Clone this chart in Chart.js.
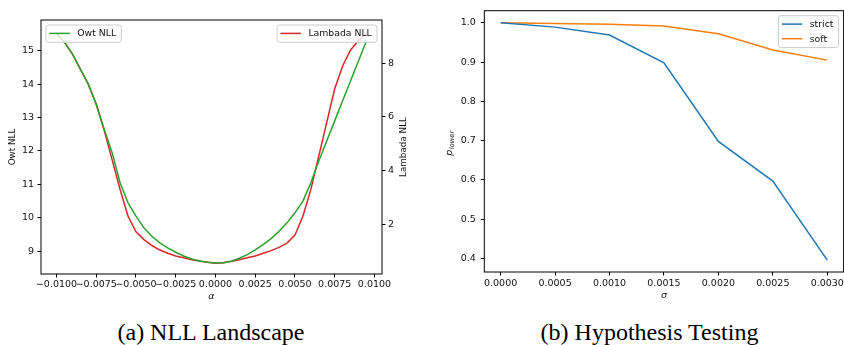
<!DOCTYPE html>
<html><head><meta charset="utf-8">
<script src="https://cdn.jsdelivr.net/npm/chart.js@4.4.0/dist/chart.umd.min.js"></script>
<style>
html,body{margin:0;padding:0;background:#fff;overflow:hidden;width:844px;height:345px;}
#wrap{position:relative;width:844px;height:345px;overflow:hidden;background:#fff}
#c1{position:absolute;left:0;top:0;width:420px;height:305px}
#c2{position:absolute;left:430px;top:0;width:470px;height:305px}
.cap{position:absolute;top:321px;font-family:'Liberation Serif','Times New Roman',serif;font-size:24px;line-height:23px;text-align:center;color:#000;white-space:nowrap;}
</style></head><body>
<div id="wrap">
<canvas id="c1" width="420" height="305"></canvas>
<canvas id="c2" width="470" height="305"></canvas>
<div class="cap" style="left:0;width:422px">(a) NLL Landscape</div>
<div class="cap" style="left:430px;width:439px">(b) Hypothesis Testing</div>
</div>
<script>
// ---------- data: panel (a) NLL landscape ----------
const alpha = [-0.01, -0.0095, -0.009, -0.0085, -0.008, -0.0075, -0.007, -0.0065, -0.006, -0.0055,
               -0.005, -0.0045, -0.004, -0.0035, -0.003, -0.0025, -0.002, -0.0015, -0.001, -0.0005,
               0, 0.0005, 0.001, 0.0015, 0.002, 0.0025, 0.003, 0.0035, 0.004, 0.0045,
               0.005, 0.0055, 0.006, 0.0065, 0.007, 0.0075, 0.008, 0.0085, 0.009, 0.0095];
const owtNLL = [15.52, 15.25, 14.9, 14.45, 14.0, 13.4, 12.65, 11.95, 11.05, 10.45,
                10.05, 9.7, 9.45, 9.25, 9.1, 8.97, 8.86, 8.77, 8.71, 8.67,
                8.65, 8.66, 8.7, 8.79, 8.9, 9.04, 9.2, 9.38, 9.6, 9.85,
                10.15, 10.5, 11.05, 11.7, 12.3, 12.9, 13.5, 14.1, 14.7, 15.3];
const lambadaNLL = [9.12, 8.78, 8.35, 7.78, 7.22, 6.47, 5.5, 4.4, 3.3, 2.3,
                    1.72, 1.43, 1.21, 1.04, 0.92, 0.82, 0.75, 0.68, 0.63, 0.59,
                    0.55, 0.57, 0.62, 0.68, 0.75, 0.82, 0.92, 1.02, 1.14, 1.3,
                    1.6, 2.3, 3.3, 4.55, 5.8, 7.05, 7.9, 8.5, 8.85, 9.1];
const alphaTicks = [-0.01, -0.0075, -0.005, -0.0025, 0, 0.0025, 0.005, 0.0075, 0.01];
const owtTicks = [9, 10, 11, 12, 13, 14, 15];
const lambadaTicks = [2, 4, 6, 8];

// ---------- data: panel (b) hypothesis testing ----------
const sigma = [0, 0.0005, 0.001, 0.0015, 0.002, 0.0025, 0.003];
const strict = [1.0, 0.989, 0.969, 0.898, 0.698, 0.597, 0.396];
const soft = [1.0, 0.998, 0.996, 0.992, 0.972, 0.931, 0.905];
const sigmaTicks = [0, 0.0005, 0.001, 0.0015, 0.002, 0.0025, 0.003];
const pTicks = [0.4, 0.5, 0.6, 0.7, 0.8, 0.9, 1.0];

const FONT = "'DejaVu Sans', sans-serif";
Chart.defaults.font.family = FONT;
Chart.defaults.font.size = 9.5;
Chart.defaults.color = '#111';

const fmt4 = v => (Math.abs(v) < 1e-12 ? 0 : v).toFixed(4).replace('-', '\u2212');
const pts = (xs, ys) => xs.map((x, i) => ({x: x, y: ys[i]}));
const setTicks = arr => (s => { s.ticks = arr.map(v => ({value: v})); });
const gridOpts = {drawOnChartArea: false, drawTicks: true, tickLength: 3.5, tickColor: '#000', tickWidth: 1, color: '#000'};

function drawLegend(ctx, area, items, corner) {
  ctx.save();
  ctx.font = '9.3px ' + FONT;
  let tw = 0;
  items.forEach(it => { tw = Math.max(tw, ctx.measureText(it.label).width); });
  const w = 3.3 + 20.5 + 7.5 + tw + 5.2;
  const h = items.length * 14.6 + 2.7;
  const x = corner === 'tl' ? area.left + 5 : area.right - 5 - w;
  const y = area.top + 5;
  ctx.beginPath();
  if (ctx.roundRect) ctx.roundRect(x, y, w, h, 2.5); else ctx.rect(x, y, w, h);
  ctx.fillStyle = 'rgba(255,255,255,0.8)';
  ctx.fill();
  ctx.strokeStyle = '#cccccc';
  ctx.lineWidth = 1;
  ctx.stroke();
  items.forEach((it, i) => {
    const cy = y + 8.4 + i * 14.6;
    ctx.beginPath();
    ctx.moveTo(x + 3.3, cy); ctx.lineTo(x + 23.8, cy);
    ctx.strokeStyle = it.color; ctx.lineWidth = 1.5; ctx.stroke();
    ctx.fillStyle = '#111';
    ctx.textBaseline = 'middle'; ctx.textAlign = 'left';
    ctx.fillText(it.label, x + 31.3, cy + 0.5);
  });
  ctx.restore();
}
function frame(ctx, a) {
  ctx.save();
  ctx.strokeStyle = '#000'; ctx.lineWidth = 1;
  ctx.strokeRect(a.left, a.top, a.right - a.left, a.bottom - a.top);
  ctx.restore();
}
function vText(ctx, text, x, y, size) {
  ctx.save();
  ctx.translate(x, y); ctx.rotate(-Math.PI / 2);
  ctx.font = size + 'px ' + FONT; ctx.fillStyle = '#111';
  ctx.textAlign = 'center'; ctx.textBaseline = 'middle';
  ctx.fillText(text, 0, 0);
  ctx.restore();
}
function italicText(ctx, text, x, y) {
  ctx.save();
  ctx.font = 'italic 9.5px ' + FONT; ctx.fillStyle = '#111';
  ctx.textAlign = 'center'; ctx.textBaseline = 'middle';
  ctx.fillText(text, x, y);
  ctx.restore();
}

const decorA = {
  id: 'decorA',
  afterDraw(chart) {
    const ctx = chart.ctx, a = chart.chartArea;
    frame(ctx, a);
    drawLegend(ctx, a, [{label: 'Owt NLL', color: '#2ca02c'}], 'tl');
    drawLegend(ctx, a, [{label: 'Lambada NLL', color: '#d62728'}], 'tr');
    vText(ctx, 'Owt NLL', 13, (a.top + a.bottom) / 2, 8.8);
    vText(ctx, 'Lambada NLL', 403.5, (a.top + a.bottom) / 2, 8.8);
    italicText(ctx, '\u03b1', (a.left + a.right) / 2, a.bottom + 23);
  }
};
const decorB = {
  id: 'decorB',
  afterDraw(chart) {
    const ctx = chart.ctx, a = chart.chartArea;
    frame(ctx, a);
    drawLegend(ctx, a, [{label: 'strict', color: '#1f77b4'}, {label: 'soft', color: '#ff7f0e'}], 'tr');
    italicText(ctx, '\u03c3', (a.left + a.right) / 2, a.bottom + 24);
    // y label p_lower
    ctx.save();
    ctx.translate(20.5, (a.top + a.bottom) / 2 + 2); ctx.rotate(-Math.PI / 2);
    ctx.fillStyle = '#111'; ctx.textBaseline = 'middle'; ctx.textAlign = 'left';
    ctx.font = 'italic 9.5px ' + FONT;
    const wp = ctx.measureText('p').width;
    ctx.font = 'italic 6.8px ' + FONT;
    const wl = ctx.measureText('lower').width;
    const x0 = -(wp + wl) / 2;
    ctx.font = 'italic 9.5px ' + FONT;
    ctx.fillText('p', x0, -1);
    ctx.font = 'italic 6.8px ' + FONT;
    ctx.fillText('lower', x0 + wp + 0.3, 1.5);
    ctx.restore();
  }
};

new Chart(document.getElementById('c1'), {
  type: 'line',
  data: {
    datasets: [
      {label: 'Owt NLL', data: pts(alpha, owtNLL), yAxisID: 'y', borderColor: '#2ca02c', borderWidth: 1.5, pointRadius: 0, tension: 0, fill: false},
      {label: 'Lambada NLL', data: pts(alpha, lambadaNLL), yAxisID: 'y1', borderColor: '#d62728', borderWidth: 1.5, pointRadius: 0, tension: 0, fill: false}
    ]
  },
  options: {
    responsive: false, animation: false, devicePixelRatio: 1,
    layout: {padding: {left: 0, right: 0, top: 20, bottom: 0}},
    plugins: {legend: {display: false}, tooltip: {enabled: false}},
    scales: {
      x: {type: 'linear', position: 'bottom', min: -0.010975, max: 0.010475,
          afterBuildTicks: setTicks(alphaTicks),
          ticks: {autoSkip: false, maxRotation: 0, minRotation: 0, padding: 1.5, callback: v => fmt4(v)},
          grid: gridOpts, border: {display: false},
          afterFit: s => { s.height = 31; }},
      y: {type: 'linear', position: 'left', min: 8.32, max: 15.918,
          afterBuildTicks: setTicks(owtTicks),
          ticks: {padding: 3.5, callback: v => String(v)},
          grid: gridOpts, border: {display: false},
          afterFit: s => { s.width = 41; }},
      y1: {type: 'linear', position: 'right', min: 0.148, max: 9.614,
          afterBuildTicks: setTicks(lambadaTicks),
          ticks: {padding: 2.5, callback: v => String(v)},
          grid: gridOpts, border: {display: false},
          afterFit: s => { s.width = 38; }}
    }
  },
  plugins: [decorA]
});

new Chart(document.getElementById('c2'), {
  type: 'line',
  data: {
    datasets: [
      {label: 'strict', data: pts(sigma, strict), borderColor: '#1f77b4', borderWidth: 1.5, pointRadius: 0, tension: 0, fill: false},
      {label: 'soft', data: pts(sigma, soft), borderColor: '#ff7f0e', borderWidth: 1.5, pointRadius: 0, tension: 0, fill: false}
    ]
  },
  options: {
    responsive: false, animation: false, devicePixelRatio: 1,
    layout: {padding: {left: 0, right: 56.4, top: 4.3, bottom: 0}},
    plugins: {legend: {display: false}, tooltip: {enabled: false}},
    scales: {
      x: {type: 'linear', position: 'bottom', min: -0.00015, max: 0.00315,
          afterBuildTicks: setTicks(sigmaTicks),
          ticks: {autoSkip: false, maxRotation: 0, minRotation: 0, padding: 2.5, callback: v => fmt4(v)},
          grid: gridOpts, border: {display: false},
          afterFit: s => { s.height = 33; }},
      y: {type: 'linear', position: 'left', min: 0.3658, max: 1.0308,
          afterBuildTicks: setTicks(pTicks),
          ticks: {padding: 5, callback: v => v.toFixed(1)},
          grid: gridOpts, border: {display: false},
          afterFit: s => { s.width = 54.3; }}
    }
  },
  plugins: [decorB]
});
</script>
</body></html>
